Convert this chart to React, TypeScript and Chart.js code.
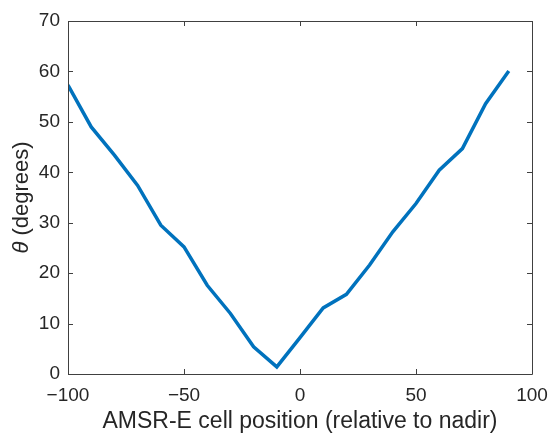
import React, { useEffect, useRef } from "react";
import { Chart, registerables } from "chart.js";

Chart.register(...registerables);

const cellPositions = [-100, -90, -80, -70, -60, -50, -40, -30, -20, -10, 0, 10, 20, 30, 40, 50, 60, 70, 80, 90];
const thetaValues = [57.3, 49.0, 43.4, 37.4, 29.5, 25.2, 17.6, 12.0, 5.4, 1.4, 7.2, 13.1, 15.8, 21.6, 28.2, 33.8, 40.4, 44.7, 53.6, 60.1];
const xTicks = [-100, -50, 0, 50, 100];
const yTicks = [0, 10, 20, 30, 40, 50, 60, 70];
const xTitle = "AMSR-E cell position (relative to nadir)";
const yTitleSymbol = "θ";
const yTitleRest = " (degrees)";

const FONT = "'Liberation Sans', Arial, Helvetica, sans-serif";
const TEXT = "#262626";
const AXIS = "#404040";

const fmtTick = (v: number) => (v < 0 ? "\u2212" + Math.abs(v) : String(v));

const framePlugin = {
  id: "matlabFrame",
  afterDraw(chart: any) {
    const { ctx, chartArea } = chart;
    const { left, right, top, bottom } = chartArea;
    const xs = chart.scales.x;
    const ys = chart.scales.y;
    ctx.save();
    ctx.strokeStyle = AXIS;
    ctx.lineWidth = 1;
    ctx.beginPath();
    ctx.rect(Math.round(left) + 0.5, Math.round(top) + 0.5, Math.round(right - left), Math.round(bottom - top));
    ctx.stroke();
    const tl = 5;
    ctx.beginPath();
    xTicks.forEach((v) => {
      const px = Math.round(xs.getPixelForValue(v)) + 0.5;
      ctx.moveTo(px, bottom);
      ctx.lineTo(px, bottom - tl);
      ctx.moveTo(px, top);
      ctx.lineTo(px, top + tl);
    });
    yTicks.forEach((v) => {
      const py = Math.round(ys.getPixelForValue(v)) + 0.5;
      ctx.moveTo(left, py);
      ctx.lineTo(left + tl, py);
      ctx.moveTo(right, py);
      ctx.lineTo(right - tl, py);
    });
    ctx.stroke();

    // x title
    ctx.fillStyle = TEXT;
    ctx.font = `23px ${FONT}`;
    ctx.textAlign = "center";
    ctx.textBaseline = "alphabetic";
    ctx.fillText(xTitle, (left + right) / 2, 428);

    // y title with italic theta
    ctx.translate(22, (top + bottom) / 2);
    ctx.rotate(-Math.PI / 2);
    ctx.textBaseline = "middle";
    ctx.font = `italic 22px ${FONT}`;
    const w1 = ctx.measureText(yTitleSymbol).width;
    ctx.font = `22px ${FONT}`;
    const w2 = ctx.measureText(yTitleRest).width;
    const start = -(w1 + w2) / 2;
    ctx.textAlign = "left";
    ctx.font = `italic 22px ${FONT}`;
    ctx.fillText(yTitleSymbol, start, 0);
    ctx.font = `22px ${FONT}`;
    ctx.fillText(yTitleRest, start + w1, 0);
    ctx.restore();
  },
};

export default function App() {
  const ref = useRef<HTMLCanvasElement>(null);
  useEffect(() => {
    document.body.style.margin = "0";
    const chart = new Chart(ref.current!, {
      type: "line",
      data: {
        datasets: [
          {
            data: cellPositions.map((x, i) => ({ x, y: thetaValues[i] })),
            borderColor: "#0072BD",
            borderWidth: 3.5,
            pointRadius: 0,
            tension: 0,
            fill: false,
          },
        ],
      },
      options: {
        animation: false,
        responsive: false,
        events: [],
        layout: { padding: { left: 0, top: 21, right: 18, bottom: 0 } },
        plugins: { legend: { display: false }, tooltip: { enabled: false } },
        scales: {
          x: {
            type: "linear",
            min: -100,
            max: 100,
            afterBuildTicks: (s: any) => {
              s.ticks = xTicks.map((v) => ({ value: v }));
            },
            afterFit: (s: any) => {
              s.height = 61;
              s.paddingLeft = 0;
              s.paddingRight = 0;
            },
            grid: { display: false, drawTicks: false },
            border: { display: false },
            ticks: { color: TEXT, font: { size: 19, family: FONT }, padding: 10, maxRotation: 0, callback: (v: any) => fmtTick(Number(v)) },
          },
          y: {
            type: "linear",
            min: 0,
            max: 70,
            afterBuildTicks: (s: any) => {
              s.ticks = yTicks.map((v) => ({ value: v }));
            },
            afterFit: (s: any) => {
              s.width = 68;
              s.paddingTop = 0;
              s.paddingBottom = 0;
            },
            grid: { display: false, drawTicks: false },
            border: { display: false },
            ticks: { color: TEXT, font: { size: 19, family: FONT }, padding: 8 },
          },
        },
      },
      plugins: [framePlugin],
    });
    return () => chart.destroy();
  }, []);
  return (
    <div style={{ width: 550, height: 435, background: "#fff" }}>
      <canvas ref={ref} width={550} height={435} />
    </div>
  );
}
